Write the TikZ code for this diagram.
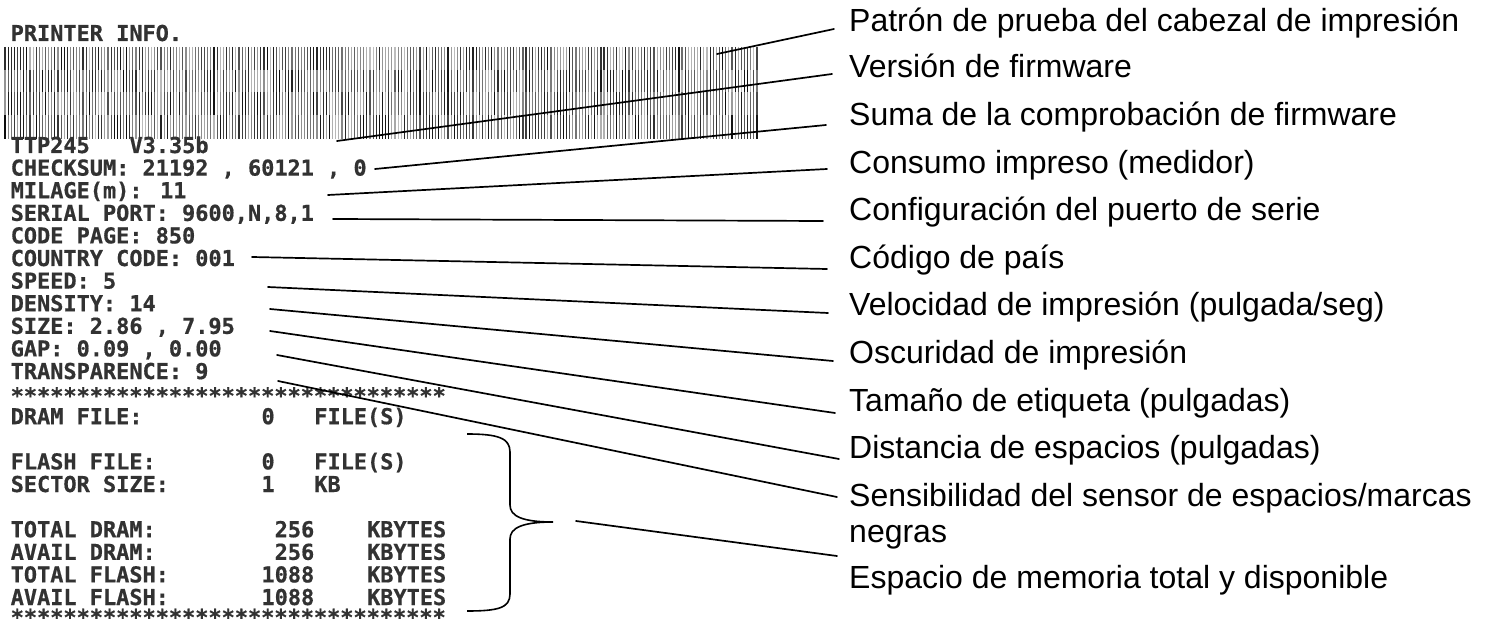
\documentclass[tikz,border=0pt]{standalone}
\usepackage{fontspec}
\setmainfont{Liberation Sans}
\newfontfamily\prnfont{DejaVu Sans Mono}[FakeBold=0.6]
\definecolor{prngray}{RGB}{50,50,50}
\begin{document}
\begin{tikzpicture}[x=1pt,y=-1pt,
  lab/.style={anchor=base west,inner sep=0pt,font=\fontsize{32}{36}\selectfont},
  prn/.style={anchor=base west,inner sep=0pt,text=prngray,font=\prnfont\bfseries\fontsize{21.9}{22.6}\selectfont},
  leader/.style={line width=1.7pt,black,line cap=round},
  bracestyle/.style={line width=1.6pt,black},
]
\useasboundingbox[fill=white] (0,0) rectangle (1491,628);

% ---------- print head test pattern ----------
\pgfmathsetseed{12345}
\foreach \yt/\yb in {47/70,70/92.5,92.5/115.5,115.5/139}{
  \foreach \k in {0,...,241}{
    \pgfmathsetmacro{\xx}{5+3.12*\k}
    \pgfmathrandominteger{\g}{25}{95}
    \draw[line width=1.15pt,draw=black!\g] (\xx,\yt) -- (\xx,\yb);
  }
}

% ---------- printout text ----------
\node[prn] (title) at (10.5,41) {PRINTER INFO.};
\node[prn] (model) at (10.5,153) {TTP245};
\node[prn] (ver) at (129.3,153) {V3.35b};
\node[prn] (chk) at (10.5,175.6) {CHECKSUM: 21192 , 60121 , 0};
\node[prn] (mil) at (10.5,198.2) {MILAGE(m): 11};
\node[prn] (ser) at (10.5,220.8) {SERIAL PORT: 9600,N,8,1};
\node[prn] (cp) at (10.5,243.4) {CODE PAGE: 850};
\node[prn] (cc) at (10.5,266) {COUNTRY CODE: 001};
\node[prn] (spd) at (10.5,288.6) {SPEED: 5};
\node[prn] (den) at (10.5,311.2) {DENSITY: 14};
\node[prn] (siz) at (10.5,333.8) {SIZE: 2.86 , 7.95};
\node[prn] (gap) at (10.5,356.4) {GAP: 0.09 , 0.00};
\node[prn] (trn) at (10.5,379) {TRANSPARENCE: 9};
\node[prn] (st1) at (10.5,403.5) {*********************************};
\node[prn] (dfk) at (10.5,424.2) {DRAM FILE:};
\node[prn] (dfv) at (261.3,424.2) {0};
\node[prn] (dfu) at (314.1,424.2) {FILE(S)};
\node[prn] (ffk) at (10.5,469.4) {FLASH FILE:};
\node[prn] (ffv) at (261.3,469.4) {0};
\node[prn] (ffu) at (314.1,469.4) {FILE(S)};
\node[prn] (ssk) at (10.5,492) {SECTOR SIZE:};
\node[prn] (ssv) at (261.3,492) {1};
\node[prn] (ssu) at (314.1,492) {KB};
\node[prn] (tdk) at (10.5,537.2) {TOTAL DRAM:};
\node[prn] (tdv) at (274.5,537.2) {256};
\node[prn] (tdu) at (366.9,537.2) {KBYTES};
\node[prn] (adk) at (10.5,559.8) {AVAIL DRAM:};
\node[prn] (adv) at (274.5,559.8) {256};
\node[prn] (adu) at (366.9,559.8) {KBYTES};
\node[prn] (tfk) at (10.5,582.4) {TOTAL FLASH:};
\node[prn] (tfv) at (261.3,582.4) {1088};
\node[prn] (tfu) at (366.9,582.4) {KBYTES};
\node[prn] (afk) at (10.5,605) {AVAIL FLASH:};
\node[prn] (afv) at (261.3,605) {1088};
\node[prn] (afu) at (366.9,605) {KBYTES};
\node[prn] (st2) at (10.5,625) {*********************************};

% ---------- labels ----------
\node[lab] (l1) at (849,32) {Patrón de prueba del cabezal de impresión};
\node[lab] (l2) at (849,78) {Versión de firmware};
\node[lab] (l3) at (849,125.6) {Suma de la comprobación de firmware};
\node[lab] (l4) at (849,173.2) {Consumo impreso (medidor)};
\node[lab] (l5) at (849,220.8) {Configuración del puerto de serie};
\node[lab] (l6) at (849,268.4) {Código de país};
\node[lab] (l7) at (849,316) {Velocidad de impresión (pulgada/seg)};
\node[lab] (l8) at (849,363.6) {Oscuridad de impresión};
\node[lab] (l9) at (849,411.2) {Tamaño de etiqueta (pulgadas)};
\node[lab] (l10) at (849,458.8) {Distancia de espacios (pulgadas)};
\node[lab] (l11) at (849,506.4) {\begin{tabular}[t]{@{}l@{}}Sensibilidad del sensor de espacios/marcas\\negras\end{tabular}};
\node[lab] (l12) at (849,588) {Espacio de memoria total y disponible};

% ---------- brace ----------
\coordinate (bt) at (553,522);
\draw[bracestyle] (467,434) .. controls (498,434) and (510,438) .. (510,452)
  -- (510,505) .. controls (510,516) and (522,522) .. (bt)
  .. controls (522,522) and (510,528) .. (510,539)
  -- (510,594) .. controls (510,608) and (498,611) .. (467,611);

% ---------- leader lines ----------
\coordinate (a1) at (717,54);   \coordinate (b1) at (834,29);
\coordinate (a2) at (337,141);  \coordinate (b2) at (832,74);
\coordinate (a3) at (375,169);  \coordinate (b3) at (826,125);
\coordinate (a4) at (328,195);  \coordinate (b4) at (827,169);
\coordinate (a5) at (333,219);  \coordinate (b5) at (823,221);
\coordinate (a6) at (252,257);  \coordinate (b6) at (827,269);
\coordinate (a7) at (268,287);  \coordinate (b7) at (828,313);
\coordinate (a8) at (270,309);  \coordinate (b8) at (833,361);
\coordinate (a9) at (270,331);  \coordinate (b9) at (835,413);
\coordinate (a10) at (277,355); \coordinate (b10) at (839,459);
\coordinate (a11) at (278,381); \coordinate (b11) at (837,497);
\coordinate (a12) at (576,521); \coordinate (b12) at (837,556);
\foreach \i in {1,...,12}{\draw[leader] (a\i) -- (b\i);}
\end{tikzpicture}
\end{document}
